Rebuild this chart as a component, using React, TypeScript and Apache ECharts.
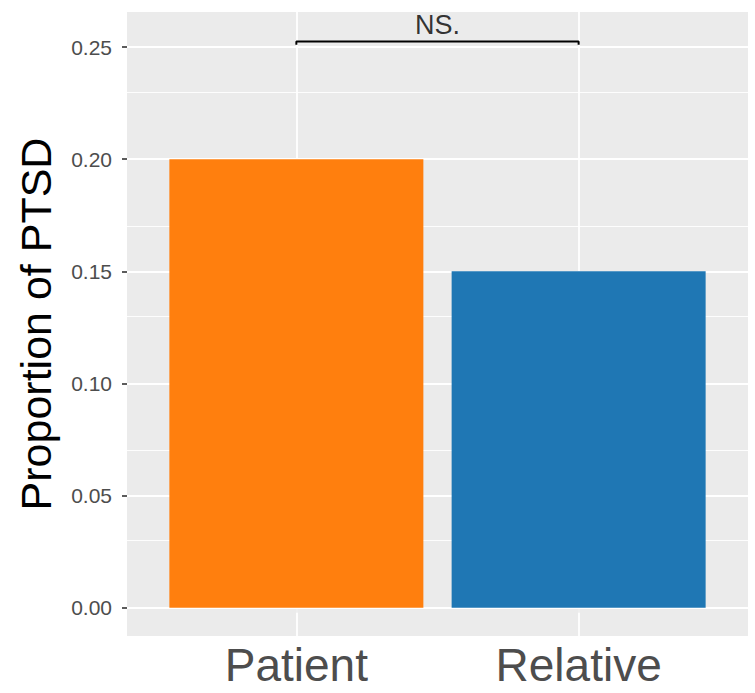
import React, { useEffect, useRef } from "react";
import * as echarts from "echarts";

const categories = ["Patient", "Relative"];
const proportions = [0.2, 0.15];
const barColors = ["#FF7F0E", "#1F77B4"];
const yTicks = [0, 0.05, 0.1, 0.15, 0.2, 0.25];
const yMinorLines = [0.025, 0.075, 0.125, 0.175, 0.225];
const bracketY = 0.2525;
const bracketTipY = 0.251;
const signifLabel = "NS.";

const FONT = "'Liberation Sans', Arial, Helvetica, sans-serif";

export default function App() {
  const ref = useRef<HTMLDivElement>(null);
  useEffect(() => {
    if (!ref.current) return;
    const chart = echarts.init(ref.current, undefined, { renderer: "svg" });
    const xPositions = categories.map((_, i) => i + 1);
    const gridLines = [
      ...yTicks.map((v) => ({ yAxis: v, lineStyle: { width: 1.8 } })),
      ...yMinorLines.map((v) => ({ yAxis: v, lineStyle: { width: 0.9 } })),
      ...xPositions.map((v) => ({ xAxis: v, lineStyle: { width: 1.8 } })),
    ];
    chart.setOption({
      animation: false,
      backgroundColor: "#FFFFFF",
      textStyle: { fontFamily: FONT },
      grid: {
        left: 127,
        right: 7,
        top: 12,
        bottom: 57,
        show: true,
        backgroundColor: "#EBEBEB",
        borderWidth: 0,
        containLabel: false,
        outerBoundsMode: "none",
      },
      xAxis: {
        type: "value",
        min: 0.4,
        max: 2.6,
        splitLine: { show: false },
        axisLine: { show: false },
        axisTick: {
          show: true,
          customValues: xPositions,
          length: 5,
          lineStyle: { color: "#333333", width: 1.6 },
        },
        axisLabel: {
          customValues: xPositions,
          formatter: (v: number) => categories[Math.round(v) - 1] ?? "",
          color: "#4D4D4D",
          fontSize: 46,
          margin: 6,
          fontFamily: FONT,
        },
      },
      yAxis: {
        type: "value",
        min: -0.01265,
        max: 0.26565,
        name: "Proportion of PTSD",
        nameLocation: "middle",
        nameRotate: 90,
        nameGap: 70,
        nameTextStyle: { color: "#000000", fontSize: 43, fontFamily: FONT },
        splitLine: { show: false },
        axisLine: { show: false },
        axisTick: {
          show: true,
          customValues: yTicks,
          length: 5,
          lineStyle: { color: "#333333", width: 1.6 },
        },
        axisLabel: {
          customValues: yTicks,
          formatter: (v: number) => v.toFixed(2),
          color: "#4D4D4D",
          fontSize: 21,
          margin: 15,
          fontFamily: FONT,
        },
      },
      series: [
        {
          type: "line",
          data: [[1, null]],
          showSymbol: false,
          silent: true,
          z: 1,
          markLine: {
            silent: true,
            z: 1,
            symbol: ["none", "none"],
            label: { show: false },
            lineStyle: { color: "#FFFFFF", type: "solid" },
            data: gridLines,
          },
        },
        {
          type: "bar",
          z: 3,
          barWidth: 254,
          data: categories.map((c, i) => ({
            name: c,
            value: [xPositions[i], proportions[i]],
            itemStyle: { color: barColors[i] },
          })),
        },
        {
          type: "line",
          z: 5,
          showSymbol: false,
          silent: true,
          lineStyle: { color: "#000000", width: 2 },
          data: [
            [xPositions[0], bracketTipY],
            [xPositions[0], bracketY],
            [xPositions[1], bracketY],
            [xPositions[1], bracketTipY],
          ],
        },
        {
          type: "scatter",
          z: 6,
          symbolSize: 0,
          silent: true,
          data: [[(xPositions[0] + xPositions[1]) / 2, bracketY]],
          label: {
            show: true,
            position: "top",
            distance: 3,
            formatter: signifLabel,
            color: "#000000",
            fontSize: 27,
            fontFamily: FONT,
          },
        },
      ],
    });
    return () => chart.dispose();
  }, []);
  return (
    <div
      ref={ref}
      style={{ position: "fixed", left: 0, top: 0, width: 755, height: 693 }}
    />
  );
}
